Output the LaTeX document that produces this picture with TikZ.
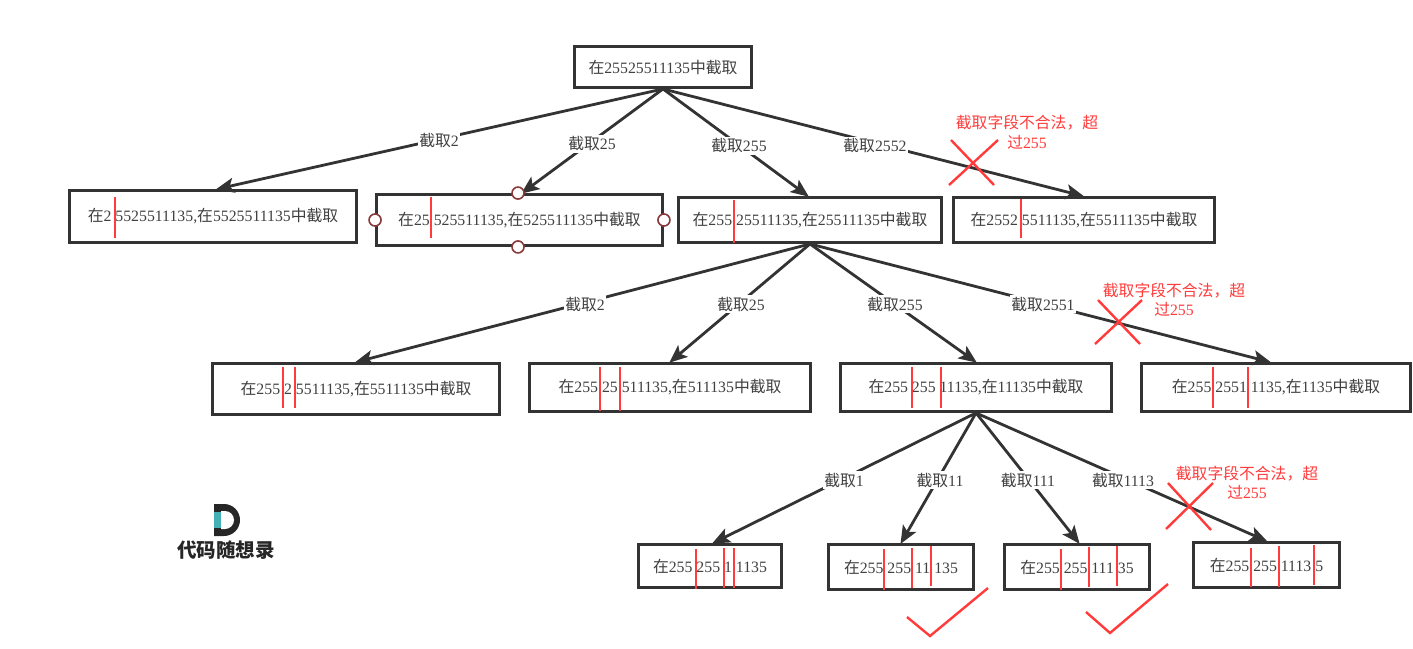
\documentclass[tikz,border=0pt]{standalone}
\usepackage{fontspec}
\setmainfont{Liberation Serif}
\newfontfamily\cjk{Noto Sans CJK SC}
\usetikzlibrary{arrows.meta}
\newcommand{\Zai}{{\cjk 在}}
\newcommand{\Jq}{{\cjk 截取}}
\newcommand{\Zj}{{\cjk 中截取}}
\newcommand{\Bad}{{\cjk 截取字段不合法，超}\\{\cjk 过}255}
\definecolor{ink}{HTML}{333333}
\definecolor{txt}{HTML}{404040}
\definecolor{redl}{HTML}{FF3B3B}
\definecolor{handle}{HTML}{8A3A3A}
\definecolor{teal2}{HTML}{45B0B5}
\tikzset{
  box/.style={draw=ink,line width=2.9pt,fill=white,text=txt,font=\fontsize{15.8}{18}\selectfont,inner sep=0pt,anchor=center},
  edge/.style={draw=ink,line width=2.8pt,-{Stealth[length=18pt,width=15pt,inset=4pt]},shorten >=-1pt},
  lbl/.style={fill=white,text=txt,font=\fontsize{15.8}{18}\selectfont,inner sep=1.5pt},
  cut/.style={draw=redl,line width=2.6pt},
  redmark/.style={draw=redl,line width=2.4pt},
  warn/.style={text=redl,font=\fontsize{15.8}{19.5}\selectfont,align=center,inner sep=0pt},
  hnd/.style={circle,draw=handle,fill=white,line width=1.6pt,minimum size=12pt,inner sep=0pt}
}
\begin{document}
\begin{tikzpicture}[x=1pt,y=-1pt]
\useasboundingbox (0,0) rectangle (1413,648);
% boxes
\node[box,minimum width=177pt,minimum height=41pt] (root) at (663,67) {\Zai 25525511135\Zj};
\node[box,minimum width=287pt,minimum height=52pt] (a1) at (213,216.5) {\Zai 2 5525511135,\Zai 5525511135\Zj};
\node[box,minimum width=286pt,minimum height=51pt] (a2) at (519.5,220) {\Zai 25 525511135,\Zai 525511135\Zj};
\node[box,minimum width=263pt,minimum height=45pt] (a3) at (810,220) {\Zai 255 25511135,\Zai 25511135\Zj};
\node[box,minimum width=261pt,minimum height=45pt] (a4) at (1084,220) {\Zai 2552 5511135,\Zai 5511135\Zj};
\node[box,minimum width=287pt,minimum height=51pt] (b1) at (356,389) {\Zai 255 2 5511135,\Zai 5511135\Zj};
\node[box,minimum width=281pt,minimum height=48pt] (b2) at (670,387.5) {\Zai 255 25 511135,\Zai 511135\Zj};
\node[box,minimum width=271pt,minimum height=48pt] (b3) at (976,387.5) {\Zai 255 255 11135,\Zai 11135\Zj};
\node[box,minimum width=269pt,minimum height=48pt] (b4) at (1276,387.5) {\Zai 255 2551 1135,\Zai 1135\Zj};
\node[box,minimum width=143pt,minimum height=43pt] (c1) at (710,566) {\Zai 255 255 1 1135};
\node[box,minimum width=145pt,minimum height=45pt] (c2) at (901,567) {\Zai 255 255 11 135};
\node[box,minimum width=145pt,minimum height=45pt] (c3) at (1077,567) {\Zai 255 255 111 35};
\node[box,minimum width=146pt,minimum height=45pt] (c4) at (1266.5,565) {\Zai 255 255 1113 5};
% connectors
\foreach \s/\t/\d in {root/a1/4,root/a2/2.5,root/a3/-2,root/a4/-1,a3/b1/0,a3/b2/0,a3/b3/0,a3/b4/-6,b3/c1/3,b3/c2/0,b3/c3/2,b3/c4/0}
  \draw[edge] (\s.south) -- ([xshift=\d pt]\t.north);
% connector labels
\node[lbl] (l1) at (439,141) {\Jq 2};
\node[lbl] (l2) at (592,144) {\Jq 25};
\node[lbl] (l3) at (739,146) {\Jq 255};
\node[lbl] (l4) at (875,146) {\Jq 2552};
\node[lbl] (l5) at (585,304) {\Jq 2};
\node[lbl] (l6) at (741,304) {\Jq 25};
\node[lbl] (l7) at (895,304) {\Jq 255};
\node[lbl] (l8) at (1043,304) {\Jq 2551};
\node[lbl] (l9) at (844,480) {\Jq 1};
\node[lbl] (l10) at (940,480) {\Jq 11};
\node[lbl] (l11) at (1028,480) {\Jq 111};
\node[lbl] (l12) at (1123,480) {\Jq 1113};
% selection handles
\node[hnd] (h1) at ([xshift=-1.5pt]a2.north) {};
\node[hnd] (h2) at ([xshift=-1.5pt]a2.south) {};
\node[hnd] (h3) at (a2.west) {};
\node[hnd] (h4) at (a2.east) {};
% red cuts
\foreach \x/\u/\v in {115/197/238,431/197/238,734/200/243,1021/199/238,
  283/367/408,295/367/408,600/367/411,620/367/411,912/367/408,941/367/408,1213/367/408,1248/367/408,
  696/549/589,724/548/588,734/548/588,884/549/590,912/548/588,931/546/586,
  1061/549/590,1089/547/587,1117/546/586,1251/548/587,1279/546/587,1314/545/585}
  \draw[cut] (\x,\u) -- (\x,\v);
% crosses
\draw[redmark] (951,140) -- (994,185);
\draw[redmark] (998,140) -- (949,185);
\draw[redmark] (1098,300) -- (1140,344);
\draw[redmark] (1142,300) -- (1095,344);
\draw[redmark] (1168,483) -- (1211,530);
\draw[redmark] (1213,483) -- (1166,529);
% ticks
\draw[redmark] (907,617) -- (930,636) -- (988,588);
\draw[redmark] (1086,612) -- (1110,633) -- (1168,584);
% warnings
\node[warn] (w1) at (1027,132.5) {\Bad};
\node[warn] (w2) at (1174,300) {\Bad};
\node[warn] (w3) at (1247,483) {\Bad};
% logo
\fill[black!85] (214,504) -- (224,504) arc[start angle=90,end angle=-90,radius=16pt] -- (214,536) -- cycle;
\fill[white] (221,511) -- (225,511) arc[start angle=90,end angle=-90,radius=9pt] -- (221,529) -- cycle;
\fill[teal2] (214,512) rectangle (221,528);
\node[text=black!85,font=\cjk\bfseries\fontsize{19.5}{21}\selectfont,inner sep=0pt] (logo) at (226,550) {代码随想录};
\end{tikzpicture}
\end{document}
